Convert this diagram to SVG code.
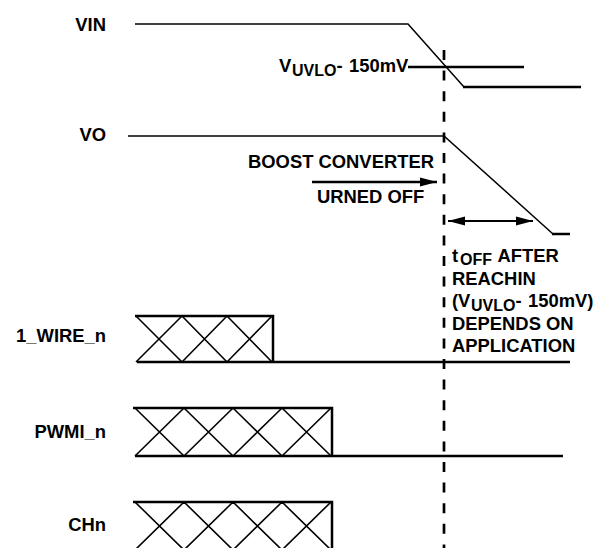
<svg xmlns="http://www.w3.org/2000/svg" width="595" height="548" viewBox="0 0 595 548">
<defs>
<style>
text{font-family:"Liberation Sans",Arial,sans-serif;font-weight:bold;font-size:18.4px;fill:#000}
.sub{font-size:16px}
.thin{stroke:#000;stroke-width:1.5;fill:none}
.thick{stroke:#000;stroke-width:2.5;fill:none}
.hatch{stroke:#000;stroke-width:1.6;fill:none}
</style>
<marker id="ah" markerUnits="userSpaceOnUse" markerWidth="18" markerHeight="10" refX="17" refY="5" orient="auto-start-reverse">
<path d="M0,0.5 L17,5 L0,9.5 Z" fill="#000"/>
</marker>
</defs>
<rect width="595" height="548" fill="#fff"/>

<g id="VIN">
<text x="106" y="31" text-anchor="end">VIN</text>
<polyline class="thin" points="135,24 408,24 464,87"/>
<line class="thick" x1="463" y1="87" x2="581" y2="87"/>
</g>

<g id="VUVLO">
<text x="279" y="72">V<tspan class="sub" x="292" y="76">UVLO</tspan><tspan y="72">- </tspan><tspan x="349" y="72">150mV</tspan></text>
<line class="thick" x1="408" y1="67" x2="524" y2="67"/>
</g>

<g id="VO">
<text x="106" y="141" text-anchor="end">VO</text>
<polyline class="thin" points="128,136 444,136 553,234"/>
<line class="thick" x1="552" y1="234" x2="570" y2="234"/>
</g>

<g id="boost">
<text x="248" y="168">BOOST CONVERTER</text>
<text x="317" y="203">URNED OFF</text>
</g>

<g id="toff">
<text x="452" y="262">t<tspan class="sub" x="460" y="265">OFF</tspan><tspan x="493" y="262"> AFTER</tspan></text>
<text x="452" y="284.5">REACHIN</text>
<text x="452" y="307">(V<tspan class="sub" x="471" y="311">UVLO</tspan><tspan y="307">- </tspan><tspan x="528" y="307">150mV)</tspan></text>
<text x="452" y="329.5">DEPENDS ON</text>
<text x="452" y="352">APPLICATION</text>
</g>

<g id="WIRE">
<text x="106" y="342" text-anchor="end">1_WIRE_n</text>
<polyline class="thick" points="135,316 273,316 273,362"/>
<line class="thick" x1="137" y1="362" x2="570" y2="362"/>
<path class="hatch" d="M136,316 L182,362 M182,316 L136,362 M182,316 L227,362 M227,316 L182,362 M227,316 L272,362 M272,316 L227,362"/>
</g>

<g id="PWMI">
<text x="106" y="438" text-anchor="end">PWMI_n</text>
<polyline class="thick" points="133,408 332,408 332,456"/>
<line class="thick" x1="135" y1="456" x2="563" y2="456"/>
<path class="hatch" d="M135,408 L184,456 M184,408 L135,456 M184,408 L233,456 M233,408 L184,456 M233,408 L282,456 M282,408 L233,456 M282,408 L331,456 M331,408 L282,456"/>
</g>

<g id="CHn">
<text x="106" y="531" text-anchor="end">CHn</text>
<polyline class="thick" points="133,502 332,502 332,548"/>
<path class="hatch" d="M135,502 L184,550 M184,502 L135,550 M184,502 L233,550 M233,502 L184,550 M233,502 L282,550 M282,502 L233,550 M282,502 L331,550 M331,502 L282,550"/>
</g>

<g id="connectors">
<line x1="444" y1="50" x2="444" y2="548" stroke="#000" stroke-width="2.7" stroke-dasharray="10 10.6"/>
<line class="thick" x1="312" y1="182" x2="437" y2="182" marker-end="url(#ah)"/>
<line x1="448" y1="221" x2="533" y2="221" stroke="#000" stroke-width="2.2" marker-start="url(#ah)" marker-end="url(#ah)"/>
</g>
</svg>
